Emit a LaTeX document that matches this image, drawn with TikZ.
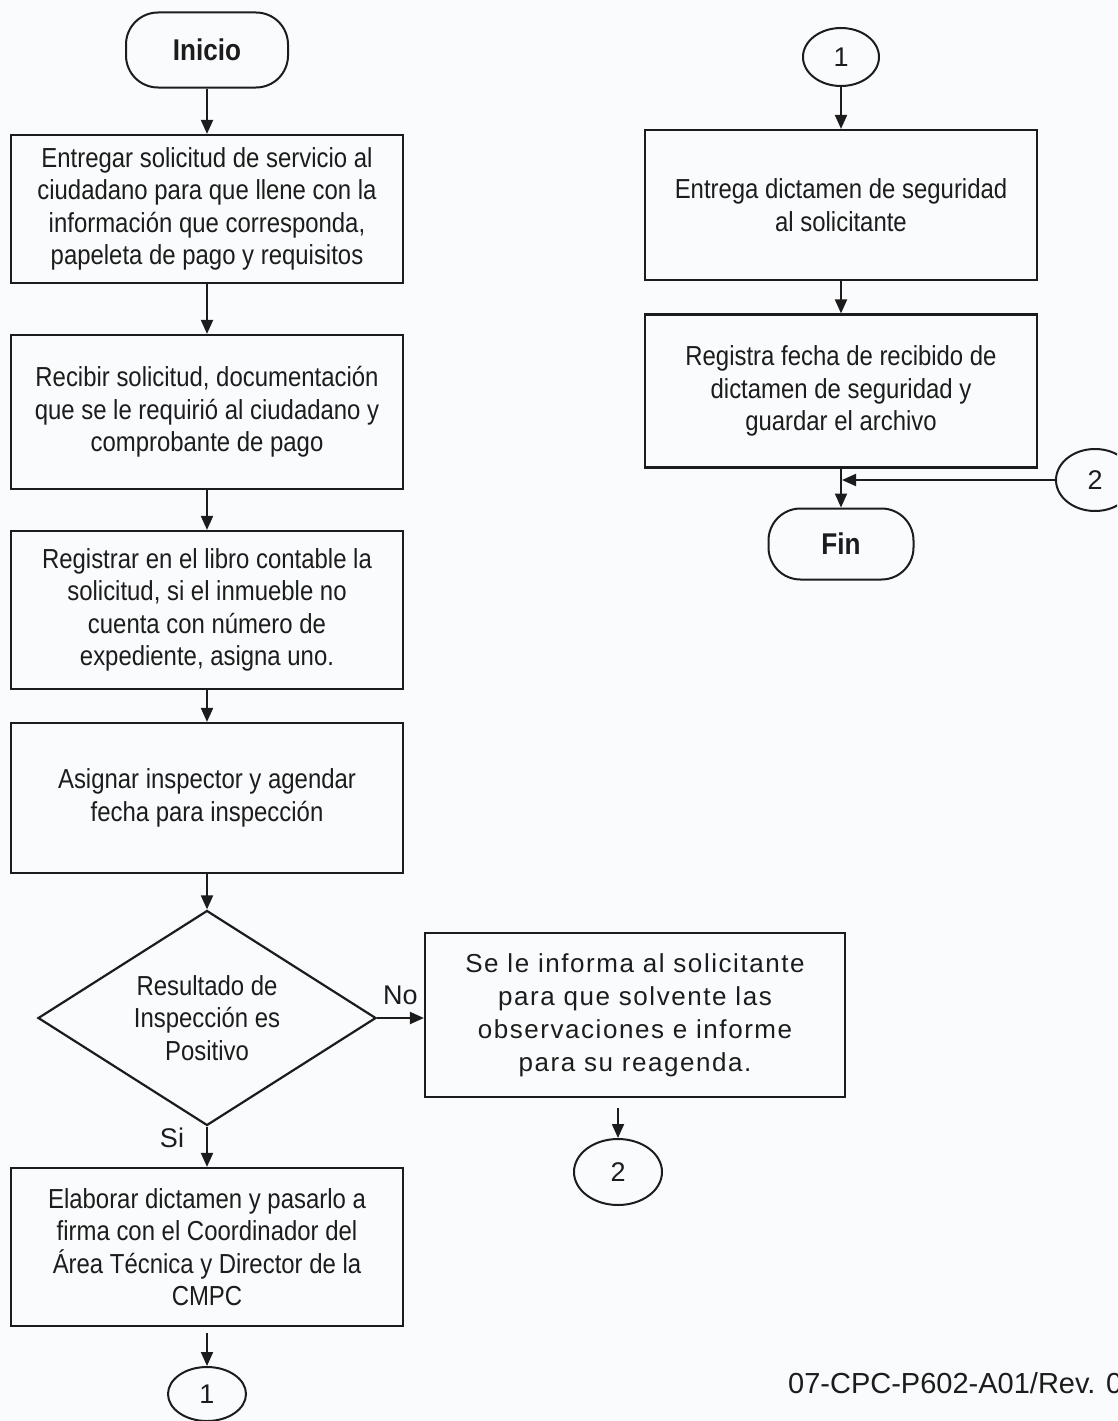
\documentclass[tikz,border=0pt]{standalone}
\usepackage{fontspec}
\setmainfont{Liberation Sans}[FakeStretch=0.87]
\newfontfamily\plainsans{Liberation Sans}
\newfontfamily\widesans{Liberation Sans}[LetterSpace=6]
\usetikzlibrary{shapes.geometric,arrows.meta,calc}

\definecolor{ink}{HTML}{1C1C1C}
\definecolor{paper}{HTML}{FAFBFC}

\begin{document}
\begin{tikzpicture}[x=1pt,y=-1pt,
  every node/.style={text=ink},
  box/.style={draw=ink, line width=2.2pt, rectangle, minimum width=392pt,
    align=center, inner sep=0pt, font=\fontsize{27.5}{32.5}\selectfont},
  term/.style={draw=ink, line width=2pt, rounded corners=32pt,
    minimum width=162pt, minimum height=75pt,
    font=\fontsize{30}{34}\selectfont\bfseries},
  conn/.style={draw=ink, line width=2pt, ellipse, inner sep=0pt,
    font=\plainsans\fontsize{27}{30}\selectfont},
  decision/.style={draw=ink, line width=2.2pt, diamond, aspect=1.57,
    minimum width=338pt, minimum height=215pt, inner sep=0pt,
    align=center, font=\fontsize{27.5}{32.5}\selectfont},
  flow/.style={draw=ink, line width=2pt, -{Triangle[length=14pt,width=12pt]}},
  lbl/.style={inner sep=0pt, font=\plainsans\fontsize{27}{30}\selectfont},
]
\useasboundingbox (0,0) rectangle (1117,1421);
\fill[paper] (0,0) rectangle (1117,1421);
\clip (0,0) rectangle (1117,1421);

% ---- left column ----
\node[term] (inicio) at (207,50) {Inicio};
\node[box, minimum height=148pt] (b1) at (207,209)
  {Entregar solicitud de servicio al\\ciudadano para que llene con la\\información que corresponda,\\papeleta de pago y requisitos};
\node[box, minimum height=154pt] (b2) at (207,412)
  {Recibir solicitud, documentación\\que se le requirió al ciudadano y\\comprobante de pago};
\node[box, minimum height=158pt] (b3) at (207,610)
  {Registrar en el libro contable la\\solicitud, si el inmueble no\\cuenta con número de\\expediente, asigna uno.};
\node[box, minimum height=150pt] (b4) at (207,798)
  {Asignar inspector y agendar\\fecha para inspección};
\node[decision] (dec) at (207,1018)
  {Resultado de\\Inspección es\\Positivo};
\node[box, minimum height=158pt] (b5) at (207,1247)
  {Elaborar dictamen y pasarlo a\\firma con el Coordinador del\\Área Técnica y Director de la\\CMPC};
\node[conn, minimum width=78pt, minimum height=54pt] (c1a) at (207,1394) {1};

% ---- rejected inspection branch ----
\node[box, minimum width=420pt, minimum height=164pt,
  font=\widesans\fontsize{26}{33}\selectfont] (nobox) at (635,1015)
  {Se le informa al solicitante\\para que solvente las\\observaciones e informe\\para su reagenda.};
\node[conn, minimum width=88pt, minimum height=66pt] (c2a) at (618,1172) {2};

% ---- right column ----
\node[conn, minimum width=76pt, minimum height=58pt] (c1b) at (841,57) {1};
\node[box, minimum height=150pt] (rb1) at (841,205)
  {Entrega dictamen de seguridad\\al solicitante};
\node[box, minimum height=153pt] (rb2) at (841,391)
  {Registra fecha de recibido de\\dictamen de seguridad y\\guardar el archivo};
\node[term, minimum width=145pt, minimum height=71pt] (fin) at (841,544) {Fin};
\node[conn, minimum width=78pt, minimum height=62pt] (c2b) at (1095,480) {2};

% ---- document code ----
\node[anchor=base west, inner sep=0pt,
  font=\plainsans\fontsize{29}{34}\selectfont] (code) at (788,1393)
  {07-CPC-P602-A01/Rev. 0};

% ---- connectors ----
\draw[flow] (inicio) -- (b1);
\draw[flow] (b1) -- (b2);
\draw[flow] (b2) -- (b3);
\draw[flow] (b3) -- (b4);
\draw[flow] (b4) -- (dec.north);
\draw[flow] (dec.east) -- node[lbl, above=12pt, pos=0.5] (nolbl) {No} (dec.east -| nobox.west);
\draw[flow] (dec.south) -- node[lbl, left=22pt, pos=0.28] (silbl) {Si} (b5.north);
\draw[flow, shorten <=6pt] (b5) -- (c1a);
\draw[flow, shorten <=10pt] (c2a.north |- nobox.south) -- (c2a);

\draw[flow] (c1b) -- (rb1);
\draw[flow] (rb1) -- (rb2);
\draw[flow] (rb2) -- (fin);
\draw[flow, shorten >=1pt] (c2b.west) -- (rb2.south |- c2b.west);
\end{tikzpicture}
\end{document}
